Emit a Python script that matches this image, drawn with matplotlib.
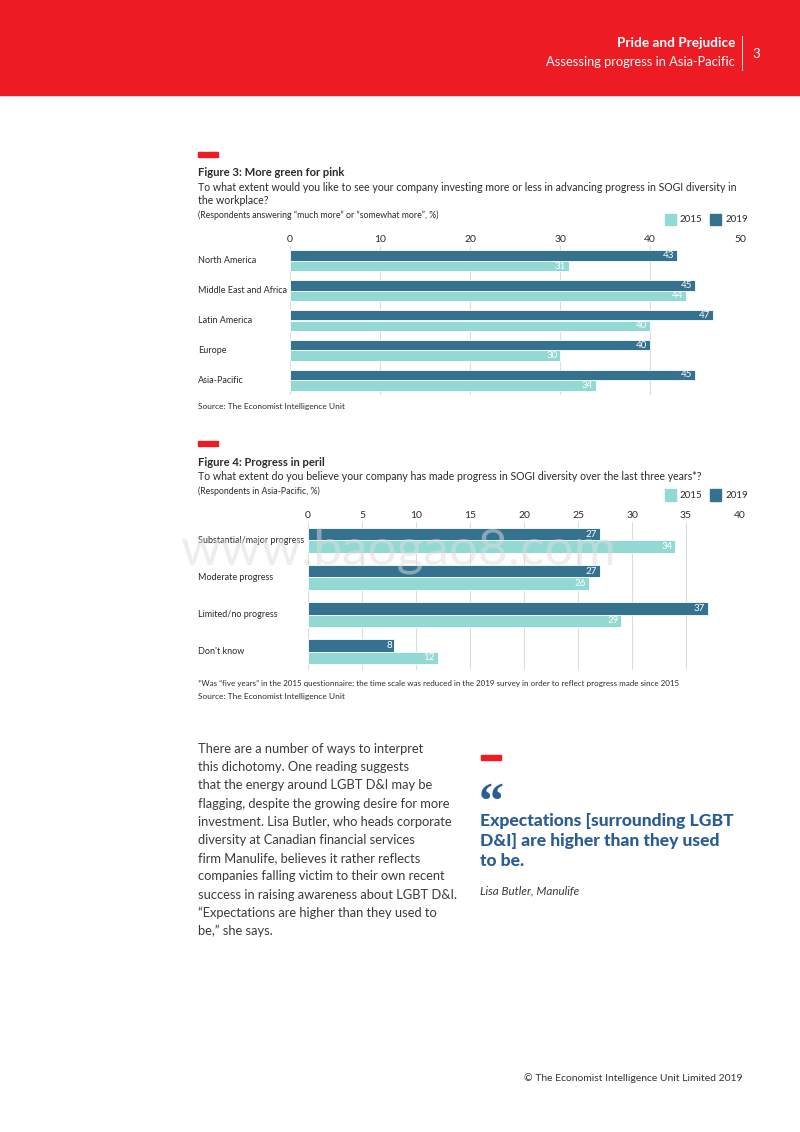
import matplotlib
matplotlib.use("Agg")
import matplotlib.pyplot as plt
from matplotlib.patches import Rectangle
import numpy as np

plt.rcParams['font.family'] = ['Lato', 'DejaVu Sans']

# ---------------- data ----------------
fig3_categories = ["North America", "Middle East and Africa", "Latin America", "Europe", "Asia-Pacific"]
fig3_2019 = [43, 45, 47, 40, 45]
fig3_2015 = [31, 44, 40, 30, 34]
fig3_ticks = [0, 10, 20, 30, 40, 50]

fig4_categories = ["Substantial/major progress", "Moderate progress", "Limited/no progress", "Don't know"]
fig4_2019 = [27, 27, 37, 8]
fig4_2015 = [34, 26, 29, 12]
fig4_ticks = [0, 5, 10, 15, 20, 25, 30, 35, 40]

series_labels = ["2015", "2019"]

C2015 = "#93d9d3"
C2019 = "#357290"
RED = "#ed1c24"
GRID = "#dcdcdc"
TXT = "#2b2b2b"
BLUE = "#2a5d94"

W, H = 800, 1132
fig = plt.figure(figsize=(W / 100, H / 100), dpi=100)


def fx(x):
    return x / W


def fy(y):
    return 1 - y / H


def ftext(x, y, s, **kw):
    kw.setdefault("color", TXT)
    kw.setdefault("va", "center")
    fig.text(fx(x), fy(y), s, **kw)


def frect(x0, y0, x1, y1, color):
    fig.patches.append(Rectangle((fx(x0), fy(y1)), fx(x1) - fx(x0), fy(y0) - fy(y1),
                                 transform=fig.transFigure, color=color, zorder=0))


# ---------------- header ----------------
frect(0, 0, 800, 95, RED)
ftext(735, 43, "Pride and Prejudice", ha="right", color="white", fontsize=9.8, fontweight="bold")
ftext(735, 62, "Assessing progress in Asia-Pacific", ha="right", color="white", fontsize=9.3)
fig.lines.append(plt.Line2D([fx(742), fx(742)], [fy(36), fy(70)], transform=fig.transFigure,
                            color="white", lw=0.6))
ftext(752, 54, "3", ha="left", color="white", fontsize=9.5)

# watermark
ftext(398, 551, "www.baogao8.com", ha="center", fontsize=37, color="#dddddd", alpha=0.5)


def bar_chart(top, bottom, x0, x1, cats, v19, v15, ticks, barh, legend_y):
    ax = fig.add_axes([fx(x0), fy(bottom), fx(x1) - fx(x0), fy(top) - fy(bottom)])
    n = len(cats)
    y = np.arange(n)
    ax.barh(y - barh / 2, v19, height=barh, color=C2019, edgecolor="white", linewidth=0.6, zorder=3)
    ax.barh(y + barh / 2, v15, height=barh, color=C2015, edgecolor="white", linewidth=0.6, zorder=3)
    off = 0.3 * (ticks[-1] / 50)
    for i in range(n):
        ax.text(v19[i] - off, y[i] - barh / 2, str(v19[i]), ha="right", va="center",
                color="white", fontsize=7, zorder=4)
        ax.text(v15[i] - off, y[i] + barh / 2, str(v15[i]), ha="right", va="center",
                color="white", fontsize=7, zorder=4)
        ax.text((198 - x0) / (x1 - x0), y[i], cats[i], transform=ax.get_yaxis_transform(),
                ha="left", va="center", fontsize=6.5, color=TXT)
    ax.set_xlim(ticks[0], ticks[-1])
    ax.set_ylim(n - 0.5, -0.5)
    ax.set_xticks(ticks)
    ax.xaxis.tick_top()
    ax.tick_params(axis="x", length=0, pad=1.5, labelsize=7.5, labelcolor=TXT)
    ax.set_yticks([])
    ax.grid(axis="x", color=GRID, lw=0.8, zorder=0)
    for s in ax.spines.values():
        s.set_visible(False)
    ax.set_facecolor("none")
    # legend
    frect(665, legend_y - 5.5, 676, legend_y + 5.5, C2015)
    ftext(680, legend_y + 0.5, series_labels[0], ha="left", fontsize=7)
    frect(710, legend_y - 5.5, 721, legend_y + 5.5, C2019)
    ftext(725, legend_y + 0.5, series_labels[1], ha="left", fontsize=7)
    return ax


# ---------------- Figure 3 ----------------
frect(198, 152, 218, 157, RED)
ftext(198, 173, "Figure 3: More green for pink", ha="left", fontsize=8.1, fontweight="bold")
ftext(198, 187, "To what extent would you like to see your company investing more or less in advancing progress in SOGI diversity in",
      ha="left", fontsize=7.6)
ftext(198, 201, "the workplace?", ha="left", fontsize=7.6)
ftext(198, 215, "(Respondents answering \u201cmuch more\u201d or \u201csomewhat more\u201d, %)", ha="left", fontsize=6.3)
bar_chart(246, 395, 290, 740, fig3_categories, fig3_2019, fig3_2015, fig3_ticks, 0.355, 219)
ftext(198, 407, "Source: The Economist Intelligence Unit", ha="left", fontsize=6.0)

# ---------------- Figure 4 ----------------
frect(198, 441, 218, 446, RED)
ftext(198, 462, "Figure 4: Progress in peril", ha="left", fontsize=8.1, fontweight="bold")
ftext(198, 476, "To what extent do you believe your company has made progress in SOGI diversity over the last three years*?",
      ha="left", fontsize=7.6)
ftext(198, 491, "(Respondents in Asia-Pacific, %)", ha="left", fontsize=6.3)
bar_chart(522, 670, 308, 740, fig4_categories, fig4_2019, fig4_2015, fig4_ticks, 0.33, 495)
ftext(198, 683, "*Was \u201cfive years\u201d in the 2015 questionnaire; the time scale was reduced in the 2019 survey in order to reflect progress made since 2015",
      ha="left", fontsize=5.8)
ftext(198, 697, "Source: The Economist Intelligence Unit", ha="left", fontsize=6.0)

# ---------------- body text ----------------
body = ["There are a number of ways to interpret",
        "this dichotomy. One reading suggests",
        "that the energy around LGBT D&I may be",
        "flagging, despite the growing desire for more",
        "investment. Lisa Butler, who heads corporate",
        "diversity at Canadian financial services",
        "firm Manulife, believes it rather reflects",
        "companies falling victim to their own recent",
        "success in raising awareness about LGBT D&I.",
        "\u201cExpectations are higher than they used to",
        "be,\u201d she says."]
for i, line in enumerate(body):
    ftext(198, 749 + i * 18.2, line, ha="left", fontsize=9.3, color="#3a3a3a")

frect(481, 755, 501, 760, RED)
ftext(479, 817, "\u201c", ha="left", va="baseline", fontsize=36, fontweight="bold", color=BLUE,
      family="Liberation Serif")
quote = ["Expectations [surrounding LGBT", "D&I] are higher than they used", "to be."]
for i, line in enumerate(quote):
    ftext(480, 821 + i * 20, line, ha="left", fontsize=12.6, fontweight="black", color=BLUE)
ftext(480, 891, "Lisa Butler, Manulife", ha="left", fontsize=8.4, style="italic", color="#3a3a3a")

ftext(742, 1078, "\u00a9 The Economist Intelligence Unit Limited 2019", ha="right", fontsize=7.5, color="#333333")

fig.savefig("out.png", dpi=100)
